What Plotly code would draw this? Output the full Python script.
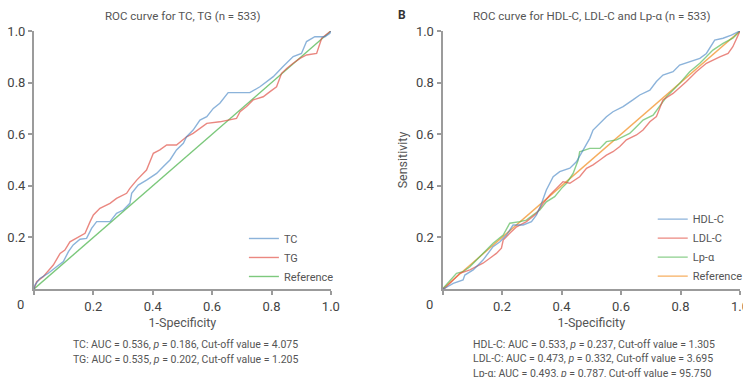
import plotly.graph_objects as go

# ---------------- data ----------------
tc_x = [0, 0.003, 0.02, 0.048, 0.076, 0.099, 0.116, 0.132, 0.155, 0.177, 0.194, 0.211, 0.256, 0.278, 0.301,
        0.323, 0.329, 0.351, 0.379, 0.413, 0.435, 0.458, 0.48, 0.503, 0.514, 0.536, 0.559, 0.582, 0.604, 0.626,
        0.654, 0.694, 0.727, 0.761, 0.783, 0.806, 0.839, 0.873, 0.901, 0.918, 0.946, 0.98, 0.997, 1]
tc_y = [0, 0.015, 0.041, 0.061, 0.086, 0.106, 0.145, 0.171, 0.193, 0.196, 0.235, 0.261, 0.261, 0.293, 0.306,
        0.332, 0.371, 0.403, 0.422, 0.448, 0.474, 0.5, 0.539, 0.565, 0.59, 0.616, 0.655, 0.668, 0.7, 0.72,
        0.761, 0.761, 0.761, 0.784, 0.804, 0.823, 0.862, 0.901, 0.913, 0.959, 0.978, 0.978, 0.991, 1]

tg_x = [0, 0.009, 0.031, 0.065, 0.088, 0.104, 0.121, 0.172, 0.189, 0.2, 0.222, 0.256, 0.278, 0.312, 0.323,
        0.346, 0.379, 0.402, 0.424, 0.447, 0.48, 0.503, 0.514, 0.536, 0.559, 0.582, 0.626, 0.66, 0.682, 0.694,
        0.716, 0.738, 0.772, 0.795, 0.817, 0.834, 0.851, 0.873, 0.896, 0.918, 0.952, 0.969, 0.991, 1]
tg_y = [0, 0.028, 0.048, 0.093, 0.138, 0.151, 0.183, 0.216, 0.261, 0.287, 0.313, 0.332, 0.351, 0.371, 0.39,
        0.422, 0.461, 0.526, 0.539, 0.558, 0.558, 0.578, 0.59, 0.603, 0.623, 0.642, 0.648, 0.655, 0.661, 0.687,
        0.707, 0.733, 0.745, 0.765, 0.784, 0.836, 0.855, 0.875, 0.894, 0.907, 0.913, 0.972, 0.991, 1]

hdl_x = [0, 0.008, 0.036, 0.069, 0.075, 0.103, 0.136, 0.17, 0.193, 0.215, 0.237, 0.271, 0.299, 0.316, 0.333,
         0.349, 0.372, 0.394, 0.428, 0.45, 0.473, 0.495, 0.506, 0.529, 0.551, 0.573, 0.607, 0.64, 0.663, 0.697,
         0.719, 0.741, 0.775, 0.797, 0.831, 0.865, 0.887, 0.898, 0.915, 0.943, 0.971, 0.993, 1]
hdl_y = [0, 0.003, 0.022, 0.035, 0.054, 0.074, 0.112, 0.164, 0.183, 0.209, 0.248, 0.248, 0.261, 0.287, 0.332,
         0.384, 0.435, 0.455, 0.468, 0.493, 0.539, 0.584, 0.616, 0.642, 0.668, 0.687, 0.707, 0.733, 0.752, 0.771,
         0.804, 0.829, 0.842, 0.868, 0.881, 0.894, 0.913, 0.933, 0.965, 0.972, 0.984, 0.997, 1]

ldl_x = [0, 0.008, 0.036, 0.058, 0.092, 0.114, 0.136, 0.159, 0.181, 0.198, 0.204, 0.226, 0.249, 0.282, 0.316,
         0.338, 0.361, 0.383, 0.405, 0.428, 0.461, 0.484, 0.506, 0.529, 0.551, 0.573, 0.596, 0.618, 0.652, 0.674,
         0.697, 0.719, 0.741, 0.775, 0.82, 0.853, 0.887, 0.932, 0.96, 0.976, 0.993, 1]
ldl_y = [0, 0.003, 0.035, 0.061, 0.074, 0.086, 0.1, 0.119, 0.138, 0.158, 0.19, 0.216, 0.241, 0.261, 0.293,
         0.332, 0.364, 0.39, 0.416, 0.41, 0.435, 0.468, 0.481, 0.5, 0.519, 0.532, 0.552, 0.578, 0.597, 0.616,
         0.648, 0.668, 0.733, 0.758, 0.804, 0.842, 0.875, 0.9, 0.913, 0.939, 0.984, 1]

lpa_x = [0, 0.013, 0.047, 0.069, 0.092, 0.125, 0.17, 0.204, 0.226, 0.26, 0.282, 0.304, 0.327, 0.349, 0.377,
         0.4, 0.417, 0.439, 0.456, 0.461, 0.495, 0.529, 0.551, 0.585, 0.607, 0.629, 0.652, 0.674, 0.708, 0.73,
         0.753, 0.797, 0.831, 0.865, 0.909, 0.943, 0.976, 1]
lpa_y = [0, 0.016, 0.061, 0.067, 0.086, 0.125, 0.177, 0.209, 0.255, 0.261, 0.267, 0.287, 0.306, 0.338, 0.358,
         0.39, 0.41, 0.448, 0.5, 0.532, 0.545, 0.545, 0.571, 0.578, 0.59, 0.603, 0.629, 0.655, 0.674, 0.707,
         0.745, 0.797, 0.842, 0.875, 0.926, 0.952, 0.972, 1]

ref_x = [0, 1]
ref_y = [0, 1]

x_ticks = [0, 0.2, 0.4, 0.6, 0.8, 1.0]
x_ticktext = ["", "0.2", "0.4", "0.6", "0.8", "1.0"]
y_ticks = [0.2, 0.4, 0.6, 0.8, 1.0]
y_ticktext = ["0.2", "0.4", "0.6", "0.8", "1.0"]

title_a = "ROC curve for TC, TG (n = 533)"
title_b = "ROC curve for HDL-C, LDL-C and Lp-α (n = 533)"
notes_a = ["TC: AUC = 0.536, <i>p</i> = 0.186, Cut-off value = 4.075",
           "TG: AUC = 0.535, <i>p</i> = 0.202, Cut-off value = 1.205"]
notes_b = ["HDL-C: AUC = 0.533, <i>p</i> = 0.237, Cut-off value = 1.305",
           "LDL-C: AUC = 0.473, <i>p</i> = 0.332, Cut-off value = 3.695",
           "Lp-α: AUC = 0.493, <i>p</i> = 0.787, Cut-off value = 95.750"]

# ---------------- styling ----------------
FONT = "Roboto, 'Noto Sans', sans-serif"
TXT = "#555555"
AX = "#9b9b9b"
BLUE, RED, GREEN, ORANGE = "#3f80c2", "#e2564c", "#5cbb5c", "#f5a044"

fig = go.Figure()

def add(x, y, name, color, xa, ya, legend, op=0.7):
    fig.add_trace(go.Scatter(x=x, y=y, name=name, mode="lines", xaxis=xa, yaxis=ya, legend=legend,
                             line=dict(color=color, width=1.4), opacity=op))

add(ref_x, ref_y, "Reference", GREEN, "x", "y", "legend", 0.8)
add(tg_x, tg_y, "TG", RED, "x", "y", "legend")
add(tc_x, tc_y, "TC", BLUE, "x", "y", "legend", 0.6)

add(ref_x, ref_y, "Reference", ORANGE, "x2", "y2", "legend2", 0.85)
add(lpa_x, lpa_y, "Lp-α", GREEN, "x2", "y2", "legend2")
add(ldl_x, ldl_y, "LDL-C", RED, "x2", "y2", "legend2")
add(hdl_x, hdl_y, "HDL-C", BLUE, "x2", "y2", "legend2", 0.6)

axis_common = dict(range=[0, 1], showgrid=False, zeroline=False, showline=True, linecolor=AX, linewidth=2,
                   ticks="outside", ticklen=4, tickcolor=AX, tickwidth=1.5, automargin=False,
                   ticklabeloverflow="allow",
                   tickfont=dict(family=FONT, size=13, color="#444"), fixedrange=True)

ML, MR, MT, MB = 34, 2.7, 31, 88
W, H = 743, 377
pw = W - ML - MR
x1_end = (331 - ML) / pw
x2_start = (442.7 - ML) / pw

fig.update_layout(
    width=W, height=H, margin=dict(l=ML, r=MR, t=MT, b=MB, autoexpand=False),
    paper_bgcolor="white", plot_bgcolor="white",
    font=dict(family=FONT, color=TXT),
    xaxis=dict(axis_common, domain=[0, x1_end], tickvals=x_ticks, ticktext=x_ticktext, anchor="y",
               title=dict(text="1-Specificity", font=dict(size=12.5, color=TXT), standoff=6)),
    yaxis=dict(axis_common, domain=[0, 1], tickvals=y_ticks, ticktext=y_ticktext, anchor="x"),
    xaxis2=dict(axis_common, domain=[x2_start, 1], tickvals=x_ticks, ticktext=x_ticktext, anchor="y2",
                title=dict(text="1-Specificity", font=dict(size=12.5, color=TXT), standoff=6)),
    yaxis2=dict(axis_common, domain=[0, 1], tickvals=y_ticks, ticktext=y_ticktext, anchor="x2",
                title=dict(text="Sensitivity", font=dict(size=12.5, color=TXT), standoff=6)),
    legend=dict(x=(244 - ML) / pw, y=0.252, xanchor="left", yanchor="top", traceorder="reversed",
                font=dict(size=11, color=TXT), bgcolor="rgba(0,0,0,0)", tracegroupgap=0, itemwidth=30),
    legend2=dict(x=(653 - ML) / pw, y=0.327, xanchor="left", yanchor="top", traceorder="reversed",
                 font=dict(size=11, color=TXT), bgcolor="rgba(0,0,0,0)", tracegroupgap=0, itemwidth=30),
)

ann = []
# titles
ann.append(dict(text=title_a, xref="x domain", yref="paper", x=0.5, y=1, yshift=15, showarrow=False,
                font=dict(size=11.5, color=TXT), xanchor="center", yanchor="middle"))
ann.append(dict(text=title_b, xref="x2 domain", yref="paper", x=0.5, y=1, yshift=15, showarrow=False,
                font=dict(size=11.5, color=TXT), xanchor="center", yanchor="middle"))
ann.append(dict(text="<b>B</b>", xref="paper", yref="paper", x=(402 - ML) / pw, y=1, yshift=16,
                showarrow=False, font=dict(size=12, color="#333"), xanchor="center", yanchor="middle"))
# zero labels at the origin
for xr, yr in (("x", "y"), ("x2", "y2")):
    ann.append(dict(text="0", xref=xr, yref=yr, x=0, y=0, showarrow=False, xanchor="right", yanchor="top",
                    xshift=-8, yshift=-6, font=dict(size=13, color="#444")))
# notes
for i, t in enumerate(notes_a):
    ann.append(dict(text=t, xref="paper", yref="paper", x=(71 - ML) / pw, y=0, yshift=-55 - 15 * i,
                    showarrow=False, xanchor="left", yanchor="middle", font=dict(size=10.5, color=TXT)))
for i, t in enumerate(notes_b):
    ann.append(dict(text=t, xref="paper", yref="paper", x=(471 - ML) / pw, y=0, yshift=-55 - 14.5 * i,
                    showarrow=False, xanchor="left", yanchor="middle", font=dict(size=10.5, color=TXT)))
fig.update_layout(annotations=ann)

fig.write_html("out.html")
